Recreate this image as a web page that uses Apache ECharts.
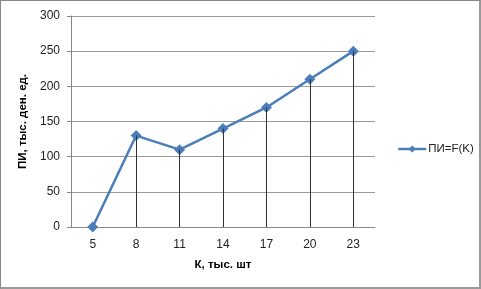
<!DOCTYPE html>
<html><head><meta charset="utf-8">
<script src="https://cdn.jsdelivr.net/npm/echarts@6/dist/echarts.min.js"></script>
<style>
html,body{margin:0;padding:0;background:#fff;}
#c{position:absolute;left:0;top:0;border:1px solid #888;border-right:2px solid #999;border-bottom:2px solid #999;box-sizing:border-box;width:481px;height:289px;}
</style></head><body>
<div id="c"></div>
<script>
const categories = ['5','8','11','14','17','20','23'];
const values = [0,130,110,140,170,210,250];
const seriesName = 'ПИ=F(K)';
const yTitle = 'ПИ, тыс. ден. ед.';
const xTitle = 'К, тыс. шт';

const chart = echarts.init(document.getElementById('c'));
const drop = values.map((v,i)=>[{coord:[i,v]},{coord:[i,0]}]);
chart.setOption({
  animation:false,
  textStyle:{fontFamily:'Liberation Sans'},
  grid:{left:70,top:15,width:304,height:211},
  legend:{left:391,top:137,orient:'vertical',itemWidth:28,itemHeight:9,
    lineStyle:{width:2.5},
    textStyle:{fontSize:11.5,color:'#222',fontFamily:'Liberation Sans',padding:[0,0,0,-3]},
    data:[{name:seriesName}]},
  xAxis:{type:'category',data:categories,boundaryGap:true,
    name:xTitle,nameLocation:'middle',nameGap:32,
    nameTextStyle:{fontWeight:'bold',fontSize:11.5,color:'#000'},
    axisLine:{lineStyle:{color:'#888'}},axisTick:{show:false},
    axisLabel:{fontSize:12,color:'#222',margin:12}},
  yAxis:{type:'value',min:0,max:300,interval:50,
    name:yTitle,nameLocation:'middle',nameGap:40,
    nameTextStyle:{fontWeight:'bold',fontSize:11.5,color:'#000'},
    axisLine:{show:true,lineStyle:{color:'#888'}},
    axisTick:{show:true,length:4,inside:false,lineStyle:{color:'#888'}},
    splitLine:{lineStyle:{color:'#9a9a9a'}},
    axisLabel:{fontSize:12,color:'#222',margin:11}},
  series:[{name:seriesName,type:'line',data:values,
    symbol:'diamond',symbolSize:11,
    lineStyle:{color:'#4a7ebb',width:2.5},
    itemStyle:{color:'#4a7ebb'},
    markLine:{silent:true,symbol:'none',label:{show:false},
      lineStyle:{color:'#333',width:1,type:'solid'},data:drop},
    z:3}]
});
</script></body></html>
